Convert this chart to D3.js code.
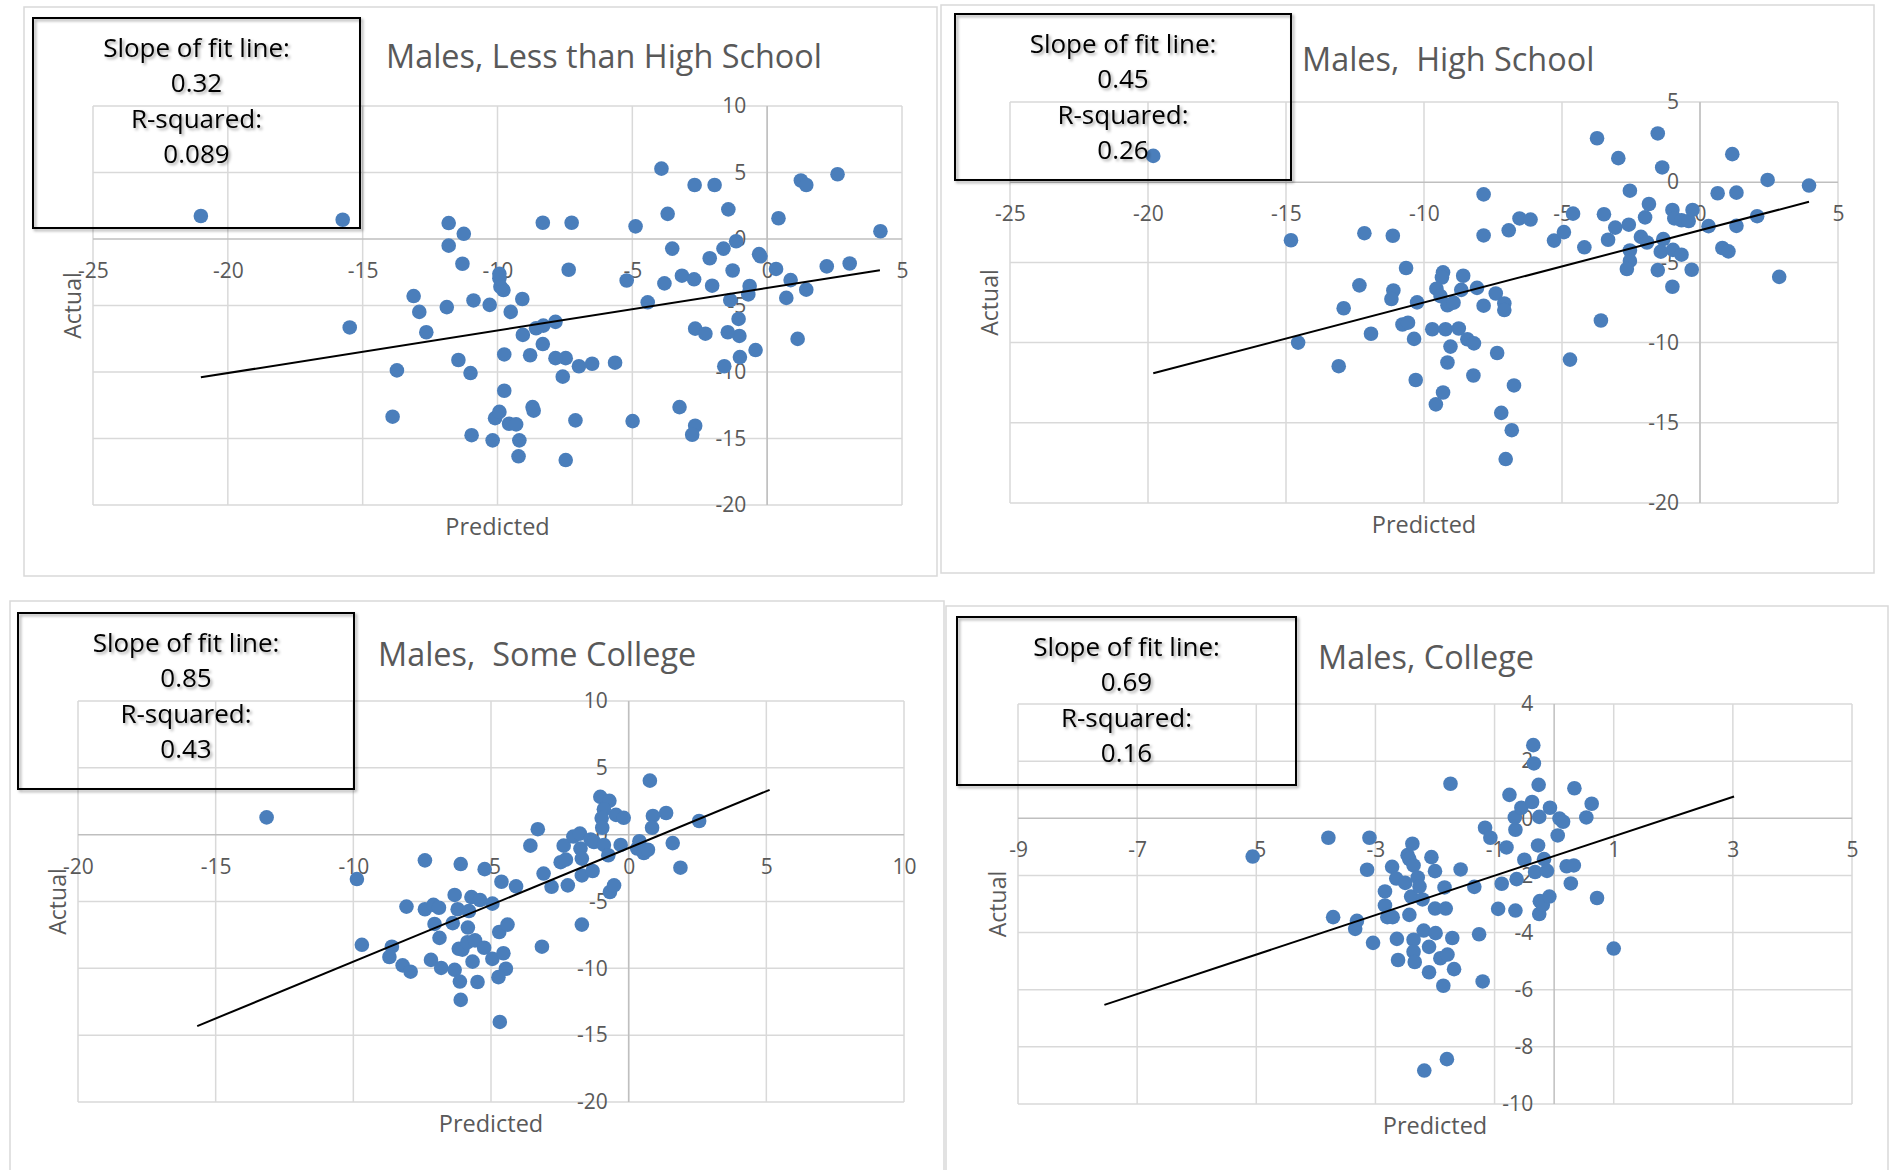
<!DOCTYPE html>
<html>
<head>
<meta charset="utf-8">
<script src="https://cdn.jsdelivr.net/npm/d3@7"></script>
<style>
  body { margin: 0; background: #fff; }
  svg { display: block; font-family: "Open Sans", "Noto Sans", sans-serif; }
</style>
</head>
<body>
<svg id="chart" width="1891" height="1170"></svg>
<script>
// values: [predicted, actual]
const lessHighSchool = [
  [-21.0,1.73],[-15.74,1.45],[-11.81,1.2],[-11.25,0.39],[-11.81,-0.5],[-11.3,-1.86],[-8.32,1.22],[-7.25,1.22],
  [-4.88,0.95],[-3.92,5.29],[-2.69,4.06],[-1.95,4.06],[-3.69,1.89],[-1.44,2.23],[-1.15,-0.17],[-1.62,-0.72],
  [-3.52,-0.72],[-2.13,-1.45],[-1.28,-2.37],[-0.3,-1.14],[-0.25,-1.3],[0.42,1.56],[1.25,4.4],[1.45,4.06],
  [2.61,4.87],[4.2,0.58],[0.33,-2.25],[2.21,-2.06],[3.06,-1.84],[0.87,-3.09],[0.71,-4.43],[1.45,-3.81],
  [1.13,-7.51],[-0.65,-3.53],[-0.7,-4.17],[-1.37,-4.59],[-1.06,-6.01],[-1.03,-7.29],[-1.46,-7.01],[-2.67,-6.74],
  [-2.29,-7.12],[-0.43,-8.35],[-1.01,-8.88],[-1.59,-9.57],[-3.16,-2.76],[-2.71,-3.03],[-2.04,-3.51],[-3.81,-3.34],
  [-5.21,-3.12],[-4.43,-4.76],[-7.36,-2.31],[-5.64,-9.3],[-6.49,-9.38],[-6.98,-9.57],[-7.47,-8.96],[-7.85,-8.96],
  [-7.58,-10.35],[-7.85,-6.23],[-8.3,-6.51],[-8.57,-6.71],[-9.06,-7.21],[-9.08,-4.51],[-9.51,-5.48],[-9.78,-3.84],
  [-9.89,-3.59],[-9.93,-2.95],[-9.93,-2.62],[-10.29,-4.95],[-10.89,-4.62],[-11.88,-5.12],[-13.11,-4.29],[-12.9,-5.48],
  [-12.64,-7.01],[-15.48,-6.65],[-13.73,-9.88],[-11.45,-9.1],[-11.0,-10.08],[-9.75,-8.68],[-8.79,-8.74],[-8.32,-7.9],
  [-9.75,-11.41],[-13.89,-13.36],[-10.96,-14.75],[-10.18,-15.14],[-10.09,-13.47],[-9.93,-13.0],[-9.57,-13.89],[-9.31,-13.94],
  [-9.19,-15.14],[-9.22,-16.34],[-8.7,-12.64],[-8.66,-12.91],[-7.11,-13.64],[-7.47,-16.62],[-4.99,-13.69],[-3.25,-12.64],
  [-2.67,-14.04],[-2.78,-14.72]
];
const highSchool = [
  [-19.81,1.64],[-14.82,-3.62],[-14.56,-10.0],[-13.09,-11.47],[-12.91,-7.86],[-12.34,-6.43],[-12.16,-3.18],[-11.92,-9.45],
  [-11.13,-3.34],[-11.11,-6.75],[-11.18,-7.28],[-10.65,-5.35],[-10.78,-8.87],[-10.58,-8.76],[-10.36,-9.77],[-10.25,-7.49],
  [-10.3,-12.33],[-9.7,-9.17],[-9.57,-13.85],[-9.31,-13.11],[-9.15,-11.24],[-9.04,-10.25],[-9.31,-5.62],[-9.35,-5.94],
  [-9.55,-6.64],[-9.4,-7.1],[-9.15,-7.67],[-8.93,-7.51],[-9.22,-9.17],[-8.74,-9.12],[-8.65,-6.71],[-8.58,-5.83],
  [-8.43,-9.79],[-8.19,-10.05],[-8.21,-12.05],[-8.08,-6.59],[-7.84,-0.76],[-7.84,-3.32],[-7.84,-7.7],[-7.4,-6.94],
  [-7.35,-10.65],[-7.09,-7.56],[-7.09,-7.97],[-7.2,-14.38],[-6.82,-15.46],[-7.04,-17.26],[-6.74,-12.67],[-6.93,-3.0],
  [-6.54,-2.26],[-6.14,-2.33],[-5.29,-3.64],[-4.93,-3.11],[-4.6,-1.96],[-4.71,-11.06],[-4.19,-4.06],[-3.73,2.74],
  [-3.59,-8.62],[-3.48,-2.0],[-3.33,-3.59],[-3.07,-2.83],[-2.96,1.5],[-2.58,-2.65],[-2.54,-0.53],[-2.54,-4.26],
  [-2.54,-4.91],[-2.65,-5.41],[-2.14,-3.41],[-1.99,-2.19],[-1.85,-1.36],[-1.92,-3.76],[-1.53,3.04],[-1.37,0.92],
  [-1.33,-3.55],[-1.42,-4.33],[-1.53,-5.48],[-1.0,-1.73],[-0.93,-2.26],[-0.98,-4.22],[-0.67,-4.52],[-1.0,-6.52],
  [-0.67,-2.37],[-0.41,-2.42],[-0.27,-1.73],[-0.3,-5.46],[0.31,-2.74],[0.64,-0.69],[1.32,-0.65],[1.17,1.75],
  [1.32,-2.72],[0.81,-4.1],[1.03,-4.31],[2.07,-2.12],[2.45,0.14],[2.87,-5.9],[3.95,-0.21]
];
const someCollege = [
  [-13.15,1.29],[-9.87,-3.32],[-9.69,-8.24],[-8.6,-8.38],[-8.69,-9.15],[-8.21,-9.78],[-7.92,-10.25],[-8.07,-5.38],
  [-7.4,-1.92],[-7.4,-5.58],[-7.09,-5.25],[-6.89,-5.47],[-7.05,-6.68],[-6.87,-7.72],[-7.18,-9.37],[-6.81,-9.97],
  [-6.32,-10.11],[-6.13,-10.99],[-6.1,-12.36],[-6.1,-2.2],[-6.32,-4.51],[-6.21,-5.58],[-6.39,-6.62],[-6.17,-8.54],
  [-6.04,-8.6],[-5.86,-8.05],[-5.67,-9.5],[-5.49,-11.02],[-5.71,-4.67],[-5.8,-5.71],[-5.84,-6.95],[-5.58,-7.91],
  [-5.4,-4.89],[-5.23,-2.58],[-5.25,-8.46],[-4.95,-5.16],[-4.95,-9.29],[-4.7,-7.28],[-4.62,-3.52],[-4.4,-6.73],
  [-4.55,-8.87],[-4.46,-10.03],[-4.73,-10.66],[-4.68,-14.01],[-4.09,-3.87],[-3.57,-0.82],[-3.3,0.41],[-3.15,-8.38],
  [-3.09,-2.91],[-2.8,-3.9],[-2.47,-2.06],[-2.36,-0.82],[-2.28,-1.87],[-2.21,-3.79],[-2.01,-0.14],[-1.77,0.08],
  [-1.75,-1.04],[-1.7,-1.79],[-1.7,-3.05],[-1.7,-6.73],[-1.38,-0.36],[-1.31,-2.72],[-1.26,-0.55],[-1.03,2.83],
  [-0.7,2.53],[-0.9,1.9],[-0.98,1.24],[-0.96,0.52],[-0.9,-0.77],[-0.74,-1.54],[-0.68,-4.29],[-0.53,-3.79],
  [-0.46,1.48],[-0.18,1.26],[-0.29,-0.77],[0.31,-1.04],[0.39,-0.49],[0.55,-1.37],[0.7,-1.13],[0.77,4.04],
  [0.88,1.4],[0.85,0.52],[1.36,1.62],[1.6,-0.63],[1.88,-2.47],[2.56,1.02]
];
const college = [
  [-5.06,-1.34],[-3.79,-0.68],[-3.1,-0.68],[-3.71,-3.46],[-3.31,-3.59],[-3.34,-3.87],[-3.04,-4.36],[-3.14,-1.8],
  [-2.84,-2.56],[-2.84,-3.05],[-2.8,-3.46],[-2.71,-3.46],[-2.72,-1.7],[-2.65,-2.11],[-2.64,-4.22],[-2.62,-4.96],
  [-2.46,-1.29],[-2.43,-1.43],[-2.38,-0.89],[-2.5,-2.26],[-2.43,-3.38],[-2.4,-2.74],[-2.36,-1.65],[-2.36,-4.25],
  [-2.36,-4.67],[-2.34,-5.03],[-2.29,-2.07],[-2.26,-2.39],[-2.21,-2.84],[-2.19,-3.93],[-2.1,-4.5],[-2.1,-5.39],
  [-2.06,-1.36],[-2.0,-1.85],[-2.0,-3.16],[-1.99,-4.02],[-1.91,-4.9],[-1.86,-5.86],[-1.84,-2.42],[-1.82,-3.16],
  [-1.79,-4.77],[-1.71,-4.19],[-1.68,-5.28],[-1.74,1.21],[-1.57,-1.79],[-1.34,-2.4],[-1.26,-4.06],[-1.2,-5.71],
  [-1.16,-0.33],[-1.07,-0.68],[-0.94,-3.17],[-0.88,-2.29],[-0.8,-1.02],[-0.75,0.82],[-0.65,-3.23],[-0.63,-2.13],
  [-0.65,-0.4],[-0.66,0.03],[-0.55,0.37],[-0.5,-1.45],[-0.37,0.57],[-0.35,2.56],[-0.34,1.92],[-0.26,1.17],
  [-0.27,-0.95],[-0.25,0.05],[-0.32,-1.88],[-0.24,-2.9],[-0.25,-3.35],[-0.19,-3.03],[-0.17,-1.43],[-0.12,-1.84],
  [-0.08,-2.74],[-0.07,0.37],[0.06,-0.6],[0.09,-0.01],[0.15,-0.12],[0.21,-1.68],[0.33,-1.65],[0.28,-2.28],
  [0.34,1.05],[0.54,0.03],[0.63,0.51],[0.72,-2.79],[1.0,-4.56],[-2.18,-8.83],[-1.8,-8.43]
];

const titles = ['Males, Less than High School', 'Males,  High School', 'Males,  Some College', 'Males, College'];
const slopeText = ['0.32', '0.45', '0.85', '0.69'];
const rSquaredText = ['0.089', '0.26', '0.43', '0.16'];
const fitSlope = [0.32, 0.45, 0.85, 0.69];
const fitIntercept = [-3.68, -3.0, -1.0, -1.32];
const fitFrom = [-21.0, -19.81, -15.67, -7.55];
const fitTo = [4.18, 3.95, 5.12, 3.02];
const xTicks = [
  [-25, -20, -15, -10, -5, 0, 5],
  [-25, -20, -15, -10, -5, 0, 5],
  [-20, -15, -10, -5, 0, 5, 10],
  [-9, -7, -5, -3, -1, 1, 3, 5]
];
const yTicks = [
  [10, 5, 0, -5, -10, -15, -20],
  [5, 0, -5, -10, -15, -20],
  [10, 5, 0, -5, -10, -15, -20],
  [4, 2, 0, -2, -4, -6, -8, -10]
];
const allData = [lessHighSchool, highSchool, someCollege, college];

// page layout: [x, y, w, h]
const layout = [
  {frame: [24, 7, 913, 569],  plot: [93, 106, 809, 399],  box: [33, 18, 327, 210],  titleX: 386,  titleY: 68},
  {frame: [941, 5, 933, 568], plot: [1010, 102, 828, 401], box: [955, 14, 336, 166], titleX: 1302, titleY: 71},
  {frame: [10, 601, 934, 620], plot: [78, 701, 826, 401],  box: [18, 613, 336, 176], titleX: 378,  titleY: 666},
  {frame: [946, 606, 942, 620], plot: [1018, 704, 834, 400], box: [957, 617, 339, 168], titleX: 1318, titleY: 669}
];

const svg = d3.select('#chart');
const defs = svg.append('defs');
defs.append('filter').attr('id', 'shadow')
    .attr('x', '-20%').attr('y', '-20%').attr('width', '140%').attr('height', '140%')
  .append('feDropShadow')
    .attr('dx', 2).attr('dy', 2).attr('stdDeviation', 1.6)
    .attr('flood-color', '#000').attr('flood-opacity', 0.35);

allData.forEach((data, i) => {
    const L = layout[i];
    const [px, py, pw, ph] = L.plot;
    const x = d3.scaleLinear().domain(d3.extent(xTicks[i])).range([px, px + pw]);
    const y = d3.scaleLinear().domain(d3.extent(yTicks[i])).range([py + ph, py]);
    const g = svg.append('g');

    g.append('rect')
        .attr('x', L.frame[0]).attr('y', L.frame[1])
        .attr('width', L.frame[2]).attr('height', L.frame[3])
        .attr('fill', 'none').attr('stroke', '#d9d9d9').attr('stroke-width', 1.5);

    // gridlines
    g.append('g').selectAll('line').data(xTicks[i]).join('line')
        .attr('x1', d => x(d)).attr('x2', d => x(d))
        .attr('y1', py).attr('y2', py + ph)
        .attr('stroke', '#d9d9d9').attr('stroke-width', 1.5);
    g.append('g').selectAll('line').data(yTicks[i]).join('line')
        .attr('x1', px).attr('x2', px + pw)
        .attr('y1', d => y(d)).attr('y2', d => y(d))
        .attr('stroke', d => d === 0 ? '#bfbfbf' : '#d9d9d9').attr('stroke-width', 1.5);
    g.append('line')
        .attr('x1', x(0)).attr('x2', x(0)).attr('y1', py).attr('y2', py + ph)
        .attr('stroke', '#bfbfbf').attr('stroke-width', 1.5);

    // axes cross at zero, labels use a plain hyphen like the original
    const fmt = d => String(d);
    const xAxis = g.append('g')
        .attr('transform', `translate(0,${y(0)})`)
        .call(d3.axisBottom(x).tickValues(xTicks[i]).tickFormat(fmt).tickSize(0).tickPadding(24));
    const yAxis = g.append('g')
        .attr('transform', `translate(${x(0)},0)`)
        .call(d3.axisLeft(y).tickValues(yTicks[i]).tickFormat(fmt).tickSize(0).tickPadding(21));
    [xAxis, yAxis].forEach(a => {
        a.select('.domain').remove();
        a.selectAll('text')
            .attr('fill', '#595959')
            .style('font-size', '21px')
            .style('font-family', '"Open Sans", sans-serif');
    });

    // points
    g.append('g').selectAll('circle').data(data).join('circle')
        .attr('cx', d => x(d[0])).attr('cy', d => y(d[1]))
        .attr('r', 7.3)
        .attr('fill', '#4a7ebb');

    // fit line
    g.append('line')
        .attr('x1', x(fitFrom[i])).attr('y1', y(fitSlope[i] * fitFrom[i] + fitIntercept[i]))
        .attr('x2', x(fitTo[i])).attr('y2', y(fitSlope[i] * fitTo[i] + fitIntercept[i]))
        .attr('stroke', '#000').attr('stroke-width', 2);

    // axis titles
    g.append('text')
        .attr('x', px + pw / 2).attr('y', py + ph + 30)
        .attr('text-anchor', 'middle')
        .attr('fill', '#595959').style('font-size', '23.5px')
        .text('Predicted');
    g.append('text')
        .attr('transform', `translate(${px - 20},${py + ph / 2}) rotate(-90)`)
        .attr('text-anchor', 'middle').attr('dy', '0.35em')
        .attr('fill', '#595959').style('font-size', '23px')
        .text('Actual');

    // chart title
    g.append('text')
        .attr('x', L.titleX).attr('y', L.titleY)
        .attr('fill', '#595959').style('font-size', '32.4px')
        .style('white-space', 'pre')
        .text(titles[i]);

    // stats box
    const [bx, by, bw, bh] = L.box;
    g.append('rect')
        .attr('x', bx).attr('y', by).attr('width', bw).attr('height', bh)
        .attr('fill', 'none').attr('stroke', '#000').attr('stroke-width', 2)
        .attr('filter', 'url(#shadow)');
    g.append('g').selectAll('text')
        .data(['Slope of fit line:', slopeText[i], 'R-squared:', rSquaredText[i]])
        .join('text')
        .attr('x', bx + bw / 2)
        .attr('y', (d, k) => by + [39, 74, 110, 145][k])
        .attr('text-anchor', 'middle')
        .attr('fill', '#000').style('font-size', '26px')
        .attr('filter', 'url(#shadow)')
        .text(d => d);
});
</script>
</body>
</html>
